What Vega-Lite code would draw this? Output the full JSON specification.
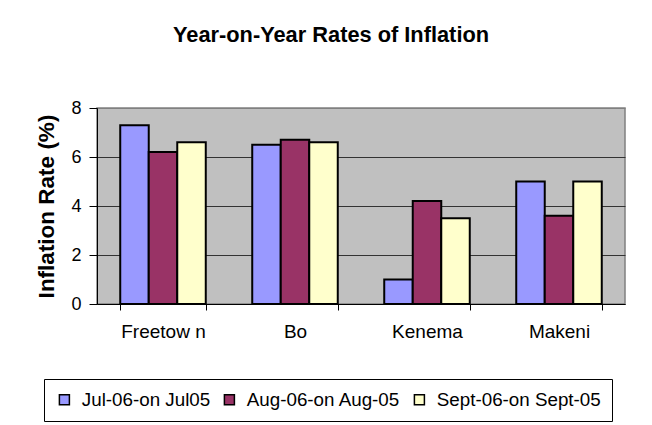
{
  "$schema": "https://vega.github.io/schema/vega-lite/v6.json",
  "width": 528,
  "height": 196,
  "autosize": {"type": "none"},
  "padding": {"left": 97, "top": 108, "right": 27, "bottom": 121},
  "background": "white",
  "title": {
    "text": "Year-on-Year Rates of Inflation",
    "font": "Liberation Sans",
    "fontSize": 21.8,
    "fontWeight": "bold",
    "color": "black",
    "anchor": "middle",
    "frame": "group",
    "dx": -30,
    "offset": 52
  },
  "data": {
    "values": [
      {"city": "Freetow n", "period": "Jul-06-on Jul05", "value": 7.3},
      {"city": "Freetow n", "period": "Aug-06-on Aug-05", "value": 6.2},
      {"city": "Freetow n", "period": "Sept-06-on Sept-05", "value": 6.6},
      {"city": "Bo", "period": "Jul-06-on Jul05", "value": 6.5},
      {"city": "Bo", "period": "Aug-06-on Aug-05", "value": 6.7},
      {"city": "Bo", "period": "Sept-06-on Sept-05", "value": 6.6},
      {"city": "Kenema", "period": "Jul-06-on Jul05", "value": 1.0},
      {"city": "Kenema", "period": "Aug-06-on Aug-05", "value": 4.2},
      {"city": "Kenema", "period": "Sept-06-on Sept-05", "value": 3.5},
      {"city": "Makeni", "period": "Jul-06-on Jul05", "value": 5.0},
      {"city": "Makeni", "period": "Aug-06-on Aug-05", "value": 3.6},
      {"city": "Makeni", "period": "Sept-06-on Sept-05", "value": 5.0}
    ]
  },
  "mark": {"type": "bar", "stroke": "black", "strokeWidth": 2, "strokeJoin": "miter"},
  "encoding": {
    "x": {
      "field": "city",
      "type": "nominal",
      "sort": null,
      "scale": {"paddingInner": 0.352, "paddingOuter": 0.176},
      "axis": {
        "title": null,
        "labelAngle": 0,
        "labelFont": "Liberation Sans",
        "labelFontSize": 19,
        "labelColor": "black",
        "labelPadding": 12,
        "tickBand": "extent",
        "tickSize": 6,
        "tickColor": "black",
        "domainColor": "black",
        "domainWidth": 1,
        "grid": false
      }
    },
    "xOffset": {"field": "period", "type": "nominal", "sort": null, "scale": {"paddingInner": 0, "paddingOuter": 0}},
    "y": {
      "field": "value",
      "type": "quantitative",
      "scale": {"domain": [0, 8], "nice": false},
      "axis": {
        "title": "Inflation Rate (%)",
        "titleFont": "Liberation Sans",
        "titleFontSize": 22.5,
        "titleFontWeight": "bold",
        "titleColor": "black",
        "titlePadding": 12,
        "values": [0, 2, 4, 6, 8],
        "labelFont": "Liberation Sans",
        "labelFontSize": 18,
        "labelColor": "black",
        "labelPadding": 8,
        "tickSize": 8,
        "tickColor": "black",
        "domainColor": "black",
        "domainWidth": 1,
        "grid": true,
        "gridColor": {"condition": {"test": "datum.value === 8", "value": "#808080"}, "value": "#333333"},
        "gridWidth": 1
      }
    },
    "fill": {
      "field": "period",
      "type": "nominal",
      "sort": null,
      "scale": {
        "domain": ["Jul-06-on Jul05", "Aug-06-on Aug-05", "Sept-06-on Sept-05"],
        "range": ["#9999FF", "#993366", "#FFFFCC"]
      },
      "legend": {
        "title": null,
        "orient": "none",
        "legendX": -53,
        "legendY": 271,
        "direction": "horizontal",
        "columns": 3,
        "columnPadding": 9,
        "padding": 11,
        "strokeColor": "black",
        "fillColor": "white",
        "symbolType": "square",
        "symbolSize": 100,
        "symbolStrokeColor": "black",
        "symbolStrokeWidth": 1.5,
        "labelFont": "Liberation Sans",
        "labelFontSize": 18.8,
        "labelColor": "black",
        "labelOffset": 8,
        "labelLimit": 300
      }
    }
  },
  "config": {
    "view": {"fill": "#C0C0C0", "stroke": "#808080", "strokeWidth": 1.5}
  }
}
